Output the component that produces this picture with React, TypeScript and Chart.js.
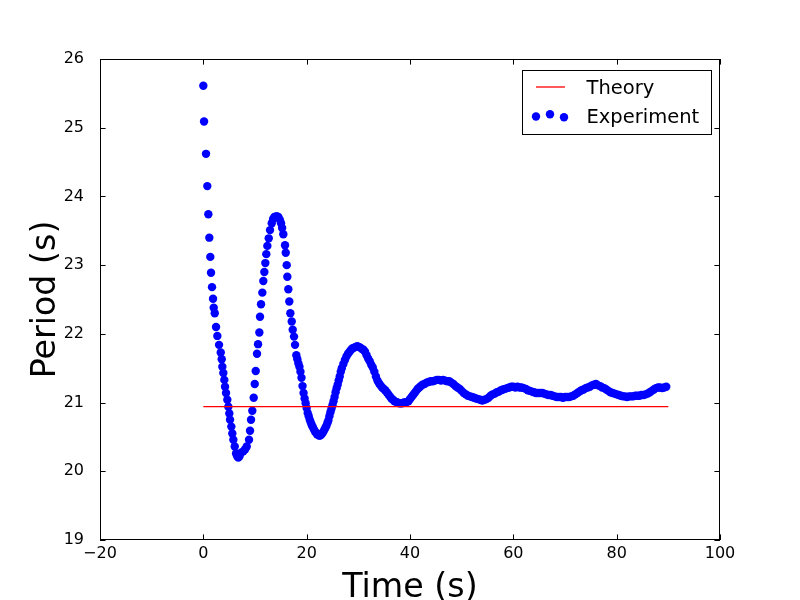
import React, { useEffect, useRef } from "react";
import { Chart, registerables } from "chart.js";

Chart.register(...registerables);

// Experiment: [time (s), period (s)]
const experimentPoints: [number, number][] = [
  [0.0, 25.61], [0.14, 25.09], [0.52, 24.62], [0.77, 24.15], [0.97, 23.74], [1.16, 23.4], [1.35, 23.12], [1.49, 22.89], [1.68, 22.68], [1.88, 22.51],
  [2.01, 22.38], [2.21, 22.3], [2.46, 22.1], [2.71, 21.97], [3.04, 21.84], [3.37, 21.73], [3.56, 21.63], [3.68, 21.52], [3.87, 21.43], [4.06, 21.33],
  [4.2, 21.23], [4.39, 21.14], [4.64, 21.04], [4.84, 20.94], [5.03, 20.84], [5.17, 20.75], [5.42, 20.65], [5.61, 20.55], [5.81, 20.46], [6.08, 20.36],
  [6.33, 20.26], [6.55, 20.22], [6.77, 20.2], [7.0, 20.22], [7.3, 20.27], [7.74, 20.29], [8.1, 20.32], [8.4, 20.36], [8.84, 20.46], [9.04, 20.59],
  [9.23, 20.75], [9.48, 20.88], [9.75, 21.07], [9.95, 21.27], [10.14, 21.46], [10.39, 21.71], [10.59, 21.85], [10.84, 22.02], [10.97, 22.25], [11.17, 22.43],
  [11.42, 22.6], [11.61, 22.77], [11.81, 22.9], [12.0, 23.03], [12.19, 23.16], [12.39, 23.28], [12.66, 23.39], [12.91, 23.51], [13.24, 23.61], [13.5, 23.67],
  [13.74, 23.7], [14.07, 23.71], [14.3, 23.71], [14.52, 23.7], [14.8, 23.66], [15.04, 23.61], [15.25, 23.54], [15.48, 23.45], [15.81, 23.29], [15.95, 23.18],
  [16.14, 23.0], [16.26, 22.83], [16.45, 22.65], [16.64, 22.47], [16.84, 22.3], [17.11, 22.18], [17.3, 22.06], [17.55, 21.96], [17.75, 21.84], [18.0, 21.69],
  [18.2, 21.63], [18.4, 21.57], [18.6, 21.52], [18.8, 21.45], [19.0, 21.36], [19.2, 21.24], [19.4, 21.14], [19.6, 21.06], [19.8, 20.99], [20.0, 20.92],
  [20.2, 20.85], [20.4, 20.8], [20.6, 20.75], [20.8, 20.71], [21.0, 20.67], [21.2, 20.64], [21.4, 20.61], [21.6, 20.58], [21.8, 20.56], [22.0, 20.54],
  [22.2, 20.53], [22.4, 20.52], [22.6, 20.52], [22.8, 20.53], [23.0, 20.55], [23.2, 20.57], [23.4, 20.6], [23.6, 20.63], [23.8, 20.66], [24.0, 20.7],
  [24.2, 20.74], [24.4, 20.8], [24.6, 20.86], [24.8, 20.91], [25.0, 20.96], [25.2, 21.02], [25.4, 21.08], [25.6, 21.15], [25.8, 21.21], [26.0, 21.26],
  [26.2, 21.32], [26.4, 21.38], [26.6, 21.45], [26.8, 21.5], [27.1, 21.56], [27.4, 21.62], [27.7, 21.67], [28.0, 21.71], [28.3, 21.74], [28.6, 21.77],
  [28.9, 21.79], [29.2, 21.8], [29.5, 21.81], [29.8, 21.82], [30.1, 21.81], [30.4, 21.8], [30.7, 21.78], [31.0, 21.77], [31.3, 21.74], [31.6, 21.69],
  [31.9, 21.64], [32.2, 21.6], [32.5, 21.55], [32.8, 21.51], [33.1, 21.45], [33.4, 21.38], [33.7, 21.32], [34.0, 21.28], [34.3, 21.25], [34.6, 21.22],
  [34.9, 21.2], [35.2, 21.18], [35.5, 21.15], [35.8, 21.12], [36.1, 21.09], [36.4, 21.06], [36.7, 21.04], [37.0, 21.02], [37.3, 21.01], [37.6, 21.0],
  [37.9, 20.99], [38.2, 20.99], [38.5, 20.99], [38.8, 21.0], [39.1, 21.0], [39.4, 21.01], [39.7, 21.02], [40.0, 21.05], [40.3, 21.08], [40.6, 21.11],
  [40.9, 21.14], [41.2, 21.17], [41.5, 21.2], [41.8, 21.22], [42.1, 21.24], [42.4, 21.26], [42.8, 21.27], [43.2, 21.29], [43.6, 21.3], [44.0, 21.31],
  [44.4, 21.31], [44.8, 21.32], [45.2, 21.33], [45.6, 21.33], [46.0, 21.32], [46.4, 21.33], [46.8, 21.32], [47.2, 21.31], [47.6, 21.31], [48.0, 21.29],
  [48.4, 21.27], [48.8, 21.24], [49.2, 21.22], [49.6, 21.2], [50.0, 21.17], [50.4, 21.14], [50.8, 21.12], [51.2, 21.1], [51.6, 21.09], [52.0, 21.08],
  [52.4, 21.07], [52.8, 21.06], [53.2, 21.05], [53.6, 21.04], [54.0, 21.03], [54.4, 21.04], [54.8, 21.05], [55.2, 21.07], [55.6, 21.1], [56.0, 21.12],
  [56.4, 21.13], [56.8, 21.15], [57.2, 21.16], [57.6, 21.18], [58.0, 21.19], [58.4, 21.2], [58.8, 21.21], [59.2, 21.22], [59.6, 21.23], [60.0, 21.23],
  [60.4, 21.22], [60.8, 21.23], [61.2, 21.22], [61.6, 21.22], [62.0, 21.21], [62.4, 21.2], [62.8, 21.18], [63.2, 21.17], [63.6, 21.16], [64.0, 21.15],
  [64.4, 21.14], [64.8, 21.14], [65.2, 21.14], [65.6, 21.14], [66.0, 21.13], [66.4, 21.12], [66.8, 21.11], [67.2, 21.11], [67.6, 21.1], [68.0, 21.09],
  [68.4, 21.08], [68.8, 21.08], [69.2, 21.08], [69.6, 21.07], [70.0, 21.08], [70.4, 21.08], [70.8, 21.08], [71.2, 21.09], [71.6, 21.1], [72.0, 21.12],
  [72.4, 21.14], [72.8, 21.16], [73.2, 21.18], [73.6, 21.19], [74.0, 21.21], [74.4, 21.22], [74.8, 21.23], [75.2, 21.25], [75.6, 21.26], [76.0, 21.27],
  [76.4, 21.25], [76.8, 21.24], [77.2, 21.22], [77.6, 21.21], [78.0, 21.19], [78.4, 21.17], [78.8, 21.15], [79.2, 21.14], [79.6, 21.13], [80.0, 21.12],
  [80.4, 21.11], [80.8, 21.1], [81.2, 21.09], [81.6, 21.09], [82.0, 21.08], [82.4, 21.09], [82.8, 21.09], [83.2, 21.09], [83.6, 21.1], [84.0, 21.1],
  [84.4, 21.1], [84.8, 21.11], [85.2, 21.11], [85.6, 21.12], [86.0, 21.13], [86.4, 21.15], [86.8, 21.17], [87.2, 21.19], [87.6, 21.21], [88.0, 21.22],
  [88.4, 21.22], [88.8, 21.21], [89.2, 21.22], [89.6, 21.23],
];

const theoryTime = [0, 90];
const theoryPeriod = [20.94, 20.94];

const xTickValues = [-20, 0, 20, 40, 60, 80, 100];
const yTickValues = [19, 20, 21, 22, 23, 24, 25, 26];

const legendLabels = ["Theory", "Experiment"];
const xTitle = "Time (s)";
const yTitle = "Period (s)";

const FONT = "'DejaVu Sans', 'Liberation Sans', sans-serif";
const BLUE = "#0000ff";
const RED = "#ff0000";
const TICK_LEN = 5.6;

const framePlugin = {
  id: "mplFrame",
  afterDatasetsDraw(chart: any) {
    const { ctx, chartArea: a, scales } = chart;
    ctx.save();
    ctx.strokeStyle = "#000";
    ctx.lineWidth = 1;
    ctx.beginPath();
    for (const v of xTickValues) {
      const px = Math.round(scales.x.getPixelForValue(v)) + 0.5;
      ctx.moveTo(px, a.bottom);
      ctx.lineTo(px, a.bottom - TICK_LEN);
      ctx.moveTo(px, a.top);
      ctx.lineTo(px, a.top + TICK_LEN);
    }
    for (const v of yTickValues) {
      const py = Math.round(scales.y.getPixelForValue(v)) + 0.5;
      ctx.moveTo(a.left, py);
      ctx.lineTo(a.left + TICK_LEN, py);
      ctx.moveTo(a.right, py);
      ctx.lineTo(a.right - TICK_LEN, py);
    }
    ctx.stroke();
    ctx.strokeRect(a.left + 0.5, a.top + 0.5, a.right - a.left - 1, a.bottom - a.top - 1);
    ctx.restore();
  },
  afterDraw(chart: any) {
    const { ctx, chartArea: a } = chart;
    const boxL = a.right - 198;
    const boxT = a.top + 11;
    const boxW = 189;
    const boxH = 64;
    ctx.save();
    ctx.fillStyle = "#fff";
    ctx.fillRect(boxL, boxT, boxW, boxH);
    ctx.strokeStyle = "#000";
    ctx.lineWidth = 1;
    ctx.strokeRect(boxL + 0.5, boxT + 0.5, boxW, boxH);
    // Theory sample
    ctx.strokeStyle = RED;
    ctx.lineWidth = 1.3;
    ctx.beginPath();
    ctx.moveTo(boxL + 14, boxT + 17);
    ctx.lineTo(boxL + 43, boxT + 17);
    ctx.stroke();
    // Experiment sample dots
    ctx.fillStyle = BLUE;
    const dots = [
      [boxL + 14, boxT + 46.5],
      [boxL + 28, boxT + 44.3],
      [boxL + 42, boxT + 47.3],
    ];
    for (const [dx, dy] of dots) {
      ctx.beginPath();
      ctx.arc(dx, dy, 4.2, 0, Math.PI * 2);
      ctx.fill();
    }
    ctx.fillStyle = "#000";
    ctx.font = `19.5px ${FONT}`;
    ctx.textAlign = "left";
    ctx.textBaseline = "alphabetic";
    ctx.fillText(legendLabels[0], boxL + 64.5, boxT + 23.5);
    ctx.fillText(legendLabels[1], boxL + 64.5, boxT + 52.5);
    ctx.restore();
  },
};

export default function App() {
  const canvasRef = useRef<HTMLCanvasElement | null>(null);

  useEffect(() => {
    document.body.style.margin = "0";
    const canvas = canvasRef.current;
    if (!canvas) return;
    const chart = new Chart(canvas, {
      type: "scatter",
      data: {
        datasets: [
          {
            label: legendLabels[0],
            data: theoryTime.map((t, i) => ({ x: t, y: theoryPeriod[i] })),
            showLine: true,
            borderColor: RED,
            backgroundColor: RED,
            borderWidth: 1.3,
            pointRadius: 0,
            pointHoverRadius: 0,
            order: 0,
          },
          {
            label: legendLabels[1],
            data: experimentPoints.map(([t, p]) => ({ x: t, y: p })),
            backgroundColor: BLUE,
            borderColor: BLUE,
            borderWidth: 0,
            pointRadius: 4.2,
            pointHoverRadius: 4.2,
            order: 1,
          },
        ],
      },
      options: {
        animation: false,
        responsive: false,
        devicePixelRatio: 1,
        layout: { padding: { top: 59, right: 80, left: 0, bottom: 0 } },
        plugins: {
          legend: { display: false },
          tooltip: { enabled: false },
          title: { display: false },
        },
        scales: {
          x: {
            type: "linear",
            min: -20,
            max: 100,
            grid: { display: false },
            border: { display: false },
            afterBuildTicks: (s: any) => {
              s.ticks = xTickValues.map((v) => ({ value: v }));
            },
            afterFit: (s: any) => {
              s.height = 60;
            },
            ticks: {
              color: "#000",
              padding: -2,
              maxRotation: 0,
              font: { family: FONT, size: 16, lineHeight: 1 },
              callback: (v: any) => String(v).replace("-", "\u2212"),
            },
            title: {
              display: true,
              text: xTitle,
              color: "#000",
              font: { family: FONT, size: 33.3, lineHeight: 0.8 },
              padding: { top: 0, bottom: -2 },
            },
          },
          y: {
            type: "linear",
            min: 19,
            max: 26,
            grid: { display: false },
            border: { display: false },
            afterBuildTicks: (s: any) => {
              s.ticks = yTickValues.map((v) => ({ value: v }));
            },
            afterFit: (s: any) => {
              s.width = 100;
            },
            ticks: {
              color: "#000",
              padding: 8,
              font: { family: FONT, size: 16 },
              callback: (v: any) => String(v).replace("-", "\u2212"),
            },
            title: {
              display: true,
              text: yTitle,
              color: "#000",
              font: { family: FONT, size: 33.3, lineHeight: 0.8 },
              padding: { top: 33, bottom: 0 },
            },
          },
        },
      },
      plugins: [framePlugin],
    });
    return () => chart.destroy();
  }, []);

  return (
    <div style={{ width: 800, height: 600, background: "#fff" }}>
      <canvas ref={canvasRef} width={800} height={600} style={{ display: "block" }} />
    </div>
  );
}
